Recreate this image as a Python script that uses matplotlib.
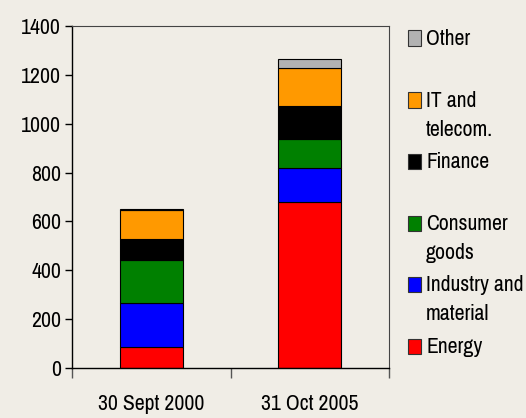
import matplotlib.pyplot as plt
from matplotlib.patches import Rectangle

dates = ["30 Sept 2000", "31 Oct 2005"]
sectors = ["Energy", "Industry and\nmaterial", "Consumer\ngoods", "Finance",
           "IT and\ntelecom.", "Other"]
energy = [86, 681]
industry = [181, 138]
consumer = [175, 119]
finance = [86, 134]
it_telecom = [118, 156]
other = [5, 38]
colors = ["#ff0000", "#0000ff", "#008000", "#000000", "#ff9900", "#b2b2b2"]

plt.rcParams["font.family"] = ["Pragati Narrow", "DejaVu Sans"]
fs = 17
bg = "#f0ede6"

W, H = 526, 418
fig = plt.figure(figsize=(W / 100, H / 100), dpi=100, facecolor=bg)
ax = fig.add_axes([72 / W, 50 / H, 317 / W, 342 / H], facecolor=bg)

series = [energy, industry, consumer, finance, it_telecom, other]
x = [0, 1]
bottom = [0, 0]
for vals, c in zip(series, colors):
    ax.bar(x, vals, width=0.4, bottom=bottom, color=c, edgecolor="black", linewidth=0.8)
    bottom = [b + v for b, v in zip(bottom, vals)]

ax.set_xlim(-0.5, 1.5)
ax.set_ylim(0, 1400)
ax.set_yticks(range(0, 1401, 200))
ax.set_xticks(x)
ax.set_xticklabels(dates, fontsize=fs)
ax.set_xticks([-0.5, 0.5, 1.5], minor=True)
ax.tick_params(axis="x", which="major", length=0, pad=19)
ax.tick_params(axis="x", which="minor", length=7, width=1, color="#555555")
ax.tick_params(axis="y", length=5, width=1, labelsize=fs, pad=3)
for s in ["top", "right"]:
    ax.spines[s].set_color("#444444")
    ax.spines[s].set_linewidth(0.8)
for s in ["left", "bottom"]:
    ax.spines[s].set_linewidth(1)

# legend drawn by hand, Excel-style uneven spacing
leg_y = [346, 284, 223, 161, 100, 38]   # first-line centers, px from top
for lab, c, yy in zip(sectors, colors, leg_y):
    fig.patches.append(Rectangle((408 / W, 1 - (yy + 7.5) / H), 12.5 / W, 15 / H,
                                 transform=fig.transFigure, facecolor=c,
                                 edgecolor="#333333", linewidth=0.8))
    fig.text(426 / W, 1 - (yy - 9) / H, lab, fontsize=fs, va="top", ha="left",
             linespacing=1.55)

fig.savefig("out.png", dpi=100, facecolor=bg)
